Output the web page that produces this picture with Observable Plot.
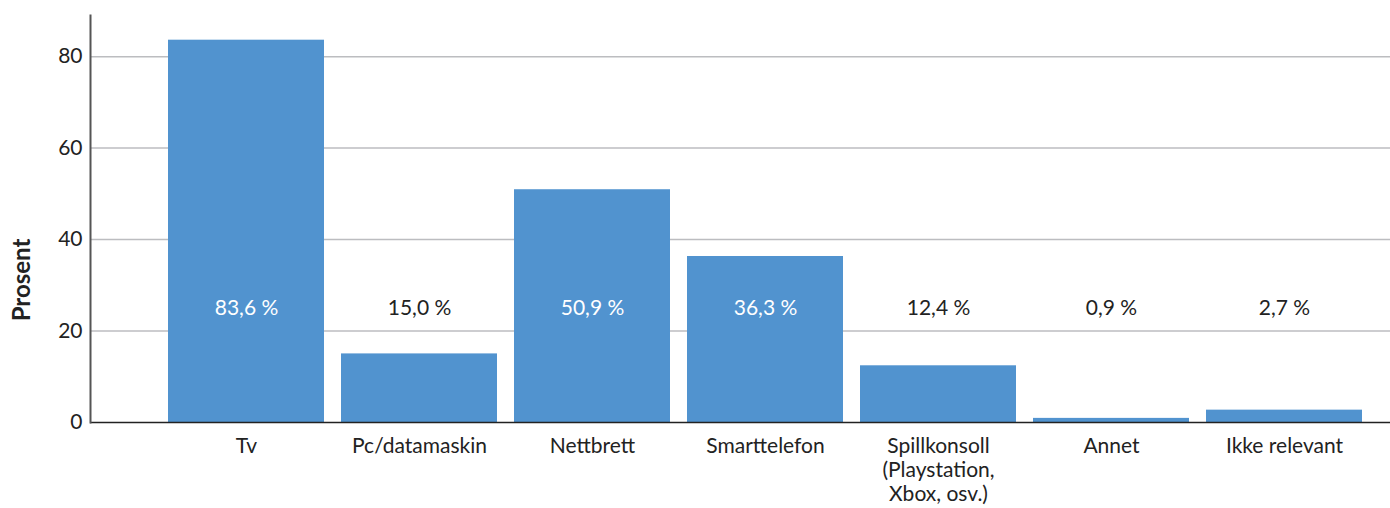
<!DOCTYPE html>
<html><head><meta charset="utf-8">
<script src="https://cdn.jsdelivr.net/npm/d3@7"></script>
<script src="https://cdn.jsdelivr.net/npm/@observablehq/plot@0.6"></script>
<style>body{margin:0;background:#fff;font-family:Lato,sans-serif}</style>
</head><body><div id="chart"></div>
<script>
const categories = ["Tv","Pc/datamaskin","Nettbrett","Smarttelefon","Spillkonsoll\n(Playstation,\nXbox, osv.)","Annet","Ikke relevant"];
const values = [83.6, 15.0, 50.9, 36.3, 12.4, 0.9, 2.7];
const yTicks = [0, 20, 40, 60, 80];
const labelLevel = 25;
const yLabel = "Prosent";

const data = categories.map((c, i) => ({cat: c, v: values[i]}));
const fmt = v => v.toFixed(1).replace(".", ",") + " %";

const chart = Plot.plot({
  width: 1390, height: 508,
  marginTop: 15, marginBottom: 86, marginLeft: 90, marginRight: 0,
  style: {fontFamily: "Lato, sans-serif", background: "#fff"},
  x: {domain: categories, range: [158.3, 1370.7], paddingInner: 0.1, paddingOuter: 0.05},
  y: {domain: [0, 89]},
  marks: [
    Plot.ruleY(yTicks.filter(d => d > 0), {stroke: "#bcbdc0", strokeWidth: 1.5}),
    Plot.barY(data, {x: "cat", y: "v", fill: "#5193cf"}),
    Plot.ruleY([0], {stroke: "#222", strokeWidth: 1.5}),
    Plot.frame({anchor: "left", stroke: "#555", strokeWidth: 2}),
    Plot.text(data, {x: "cat", y: () => labelLevel, text: d => fmt(d.v),
      fill: d => d.v > labelLevel + 3 ? "#fff" : "#222", fontSize: 21}),
    Plot.axisY(yTicks, {tickSize: 0, tickPadding: 8, fontSize: 21, fill: "#222", label: null}),
    Plot.axisX({tickSize: 0, tickPadding: 13, fontSize: 21, fill: "#222", lineHeight: 1.15, label: null, textAnchor: "middle"}),
    Plot.text([yLabel], {frameAnchor: "left", textAnchor: "middle", dx: -68, dy: 61, rotate: -90, fontSize: 24, fontWeight: "bold", fill: "#222"})
  ]
});
document.getElementById("chart").append(chart);
</script></body></html>
